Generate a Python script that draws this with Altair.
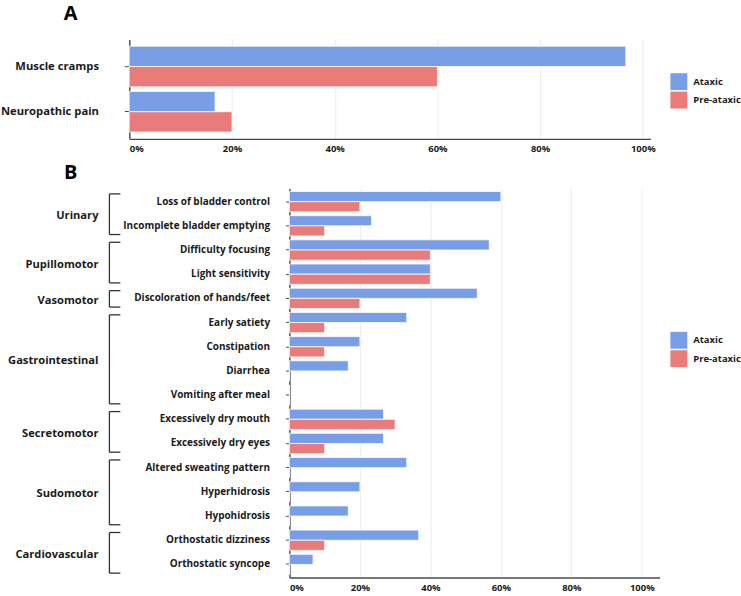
import altair as alt
import pandas as pd

FONT = "Open Sans"
INK = "#1a1a1a"
AXIS_INK = "#4a4a4a"
GRID = "#efefef"

series = ["Ataxic", "Pre-ataxic"]
series_colors = ["#799ee8", "#ea7b7b"]

# Panel A: pain symptoms
a_items = ["Muscle cramps", "Neuropathic pain"]
a_ataxic = [0.967, 0.167]
a_pre = [0.60, 0.20]

# Panel B: autonomic symptoms, grouped by domain
b_items = [
    "Loss of bladder control", "Incomplete bladder emptying",
    "Difficulty focusing", "Light sensitivity",
    "Discoloration of hands/feet",
    "Early satiety", "Constipation", "Diarrhea", "Vomiting after meal",
    "Excessively dry mouth", "Excessively dry eyes",
    "Altered sweating pattern", "Hyperhidrosis", "Hypohidrosis",
    "Orthostatic dizziness", "Orthostatic syncope",
]
b_domains = [
    "Urinary", "Urinary",
    "Pupillomotor", "Pupillomotor",
    "Vasomotor",
    "Gastrointestinal", "Gastrointestinal", "Gastrointestinal", "Gastrointestinal",
    "Secretomotor", "Secretomotor",
    "Sudomotor", "Sudomotor", "Sudomotor",
    "Cardiovascular", "Cardiovascular",
]
b_ataxic = [0.60, 0.233, 0.567, 0.40, 0.533, 0.333, 0.20, 0.167, 0.0,
            0.267, 0.267, 0.333, 0.20, 0.167, 0.367, 0.067]
b_pre = [0.20, 0.10, 0.40, 0.40, 0.20, 0.10, 0.10, 0.0, 0.0,
         0.30, 0.10, 0.0, 0.0, 0.0, 0.10, 0.0]

tick_values = [0, 0.2, 0.4, 0.6, 0.8, 1.0]


def long_table(items, ataxic, pre):
    rows = []
    for i, item in enumerate(items):
        rows.append({"item": item, "series": series[0], "value": ataxic[i]})
        rows.append({"item": item, "series": series[1], "value": pre[i]})
    return pd.DataFrame(rows)


one_row = pd.DataFrame({"k": [0]})


def spacer(x, y1, y2):
    # invisible rule that fixes the panel's outer bounds
    return alt.Chart(one_row).mark_rule(opacity=0, strokeWidth=0).encode(
        x=alt.value(x), x2=alt.value(x), y=alt.value(y1), y2=alt.value(y2)
    )


def panel_letter(letter, x, y):
    return alt.Chart(one_row).mark_text(
        text=letter, font=FONT, fontSize=20, fontWeight="bold", color="#000000",
        align="center", baseline="alphabetic",
    ).encode(x=alt.value(x), y=alt.value(y))


def x_axis():
    return alt.Axis(
        values=tick_values, format=".0%", title=None, ticks=False, grid=True,
        gridColor=GRID, gridWidth=1.2, domainColor=AXIS_INK, domainWidth=1.4,
        labelFont=FONT, labelFontSize=9.5, labelFontWeight="bold",
        labelColor=INK, labelPadding=5,
    )


def y_axis(font_size, pad, offset=0, tick=5):
    return alt.Axis(
        title=None, grid=False, tickSize=tick, tickColor=AXIS_INK,
        domainColor=AXIS_INK, domainWidth=1.4, offset=offset,
        labelFont=FONT, labelFontSize=font_size, labelFontWeight="bold",
        labelColor=INK, labelPadding=pad, labelLimit=300,
    )


def color_enc(lx, ly):
    return alt.Color(
        "series:N",
        scale=alt.Scale(domain=series, range=series_colors),
        legend=alt.Legend(
            title=None, orient="none", legendX=lx, legendY=ly,
            symbolType="square", symbolSize=289, symbolStrokeWidth=0,
            labelFont=FONT, labelFontSize=9.5, labelFontWeight="bold",
            labelColor=INK, labelOffset=6, rowPadding=1.5, padding=0,
        ),
    )


# ---------- Panel A ----------
a_df = long_table(a_items, a_ataxic, a_pre)
a_w, a_h = 524, 100

bars_a = alt.Chart(a_df).mark_bar(stroke="#ffffff", strokeWidth=0.8).encode(
    x=alt.X("value:Q", scale=alt.Scale(domain=[0, 1.015], nice=False), axis=x_axis()),
    y=alt.Y("item:N", sort=a_items,
            scale=alt.Scale(paddingInner=0.1, paddingOuter=0.15),
            axis=y_axis(11.3, 26)),
    yOffset=alt.YOffset("series:N", sort=series,
                        scale=alt.Scale(paddingInner=0, paddingOuter=0)),
    color=color_enc(544, 34),
)

panel_a = alt.layer(
    bars_a,
    panel_letter("A", -59, -19),
    spacer(-129, -38, 122),
).properties(width=a_w, height=a_h)

# ---------- Panel B ----------
# shares the left edge of panel A; its own axis starts further right
b_df = long_table(b_items, b_ataxic, b_pre)
b_shift = 161
b_w, b_h = b_shift + 372, 391
p_inner, p_outer = 0.16, 0.12
top_v = -(p_outer + (1 - p_inner) / 2)
bot_v = len(b_items) - p_inner + 2 * p_outer + top_v

bars_b = alt.Chart(b_df).mark_bar(stroke="#ffffff", strokeWidth=0.8).encode(
    x=alt.X("value:Q",
            scale=alt.Scale(domain=[0, 1.05], nice=False, range=[b_shift, b_w]),
            axis=x_axis()),
    y=alt.Y("item:N", sort=b_items,
            scale=alt.Scale(paddingInner=p_inner, paddingOuter=p_outer),
            axis=y_axis(10, 16, -b_shift, 4)),
    yOffset=alt.YOffset("series:N", sort=series,
                        scale=alt.Scale(paddingInner=0, paddingOuter=0)),
    color=color_enc(544, 144),
)

# domain brackets: row indices of each domain's first and last symptom
idx = pd.DataFrame({"domain": b_domains, "row": range(len(b_items))})
g = idx.groupby("domain", sort=False)["row"].agg(["min", "max"]).reset_index()
g["start"] = g["min"] - 0.32
g["end"] = g["max"] + 0.36
g["mid"] = (g["start"] + g["end"]) / 2 + 0.08

yscale = alt.Scale(domain=[top_v, bot_v], reverse=True, nice=False, zero=False)
bracket_base = alt.Chart(g)
bracket_x, arm_x = -20, -9

vline = bracket_base.mark_rule(color="#333333", strokeWidth=1.3).encode(
    x=alt.value(bracket_x),
    y=alt.Y("start:Q", scale=yscale, axis=None),
    y2="end:Q",
)
top_arm = bracket_base.mark_rule(color="#333333", strokeWidth=1.3).encode(
    x=alt.value(bracket_x), x2=alt.value(arm_x),
    y=alt.Y("start:Q", scale=yscale, axis=None),
)
bottom_arm = bracket_base.mark_rule(color="#333333", strokeWidth=1.3).encode(
    x=alt.value(bracket_x), x2=alt.value(arm_x),
    y=alt.Y("end:Q", scale=yscale, axis=None),
)
domain_text = bracket_base.mark_text(
    align="right", baseline="middle", font=FONT, fontSize=11.2,
    fontWeight="bold", color=INK,
).encode(
    x=alt.value(-31),
    y=alt.Y("mid:Q", scale=yscale, axis=None),
    text="domain:N",
)

brackets = alt.layer(vline, top_arm, bottom_arm, domain_text)

panel_b = alt.layer(
    bars_b,
    brackets,
    panel_letter("B", -59, -10),
    spacer(-129, -28, 395),
).resolve_scale(y="independent").properties(width=b_w, height=b_h)

chart = alt.vconcat(panel_a, panel_b, spacing=0).resolve_scale(
    x="independent", y="independent", yOffset="independent"
).resolve_legend(
    color="independent"
).properties(
    padding={"left": 0, "top": 0, "right": 0, "bottom": 0},
    background="#ffffff",
).configure_view(
    stroke="transparent", strokeWidth=0
)

chart.save("out.html", embed_options={"renderer": "svg", "actions": False})
